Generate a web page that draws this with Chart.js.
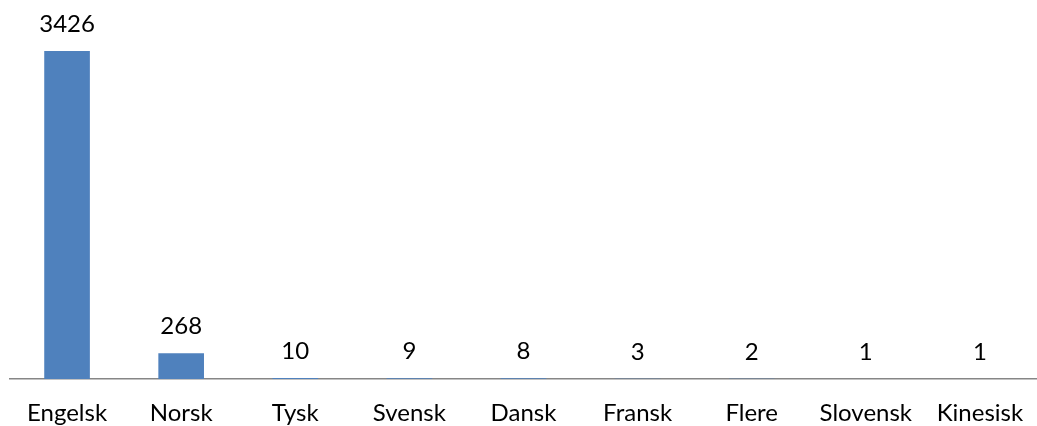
<!DOCTYPE html>
<html>
<head>
<meta charset="utf-8">
<script src="https://cdn.jsdelivr.net/npm/chart.js@4/dist/chart.umd.min.js"></script>
<style>
  html, body { margin: 0; padding: 0; background: #fff; }
  #wrap { width: 1037px; height: 426px; position: relative; }
</style>
</head>
<body>
<div id="wrap"><canvas id="my-chart"></canvas></div>
<script>
const languages = ["Engelsk", "Norsk", "Tysk", "Svensk", "Dansk", "Fransk", "Flere", "Slovensk", "Kinesisk"];
const counts = [3426, 268, 10, 9, 8, 3, 2, 1, 1];

const fontFamily = "Lato, 'Noto Sans', sans-serif";

// etiketter over søylene
const valueLabels = {
  id: "valueLabels",
  afterDatasetsDraw(chart) {
    const ctx = chart.ctx;
    const meta = chart.getDatasetMeta(0);
    ctx.save();
    ctx.font = "24px " + fontFamily;
    ctx.fillStyle = "#000";
    ctx.textAlign = "center";
    ctx.textBaseline = "alphabetic";
    meta.data.forEach((bar, i) => {
      ctx.fillText(String(counts[i]), bar.x, bar.y - 19);
    });
    ctx.restore();
  },
};

new Chart(document.getElementById("my-chart"), {
  type: "bar",
  data: {
    labels: languages,
    datasets: [
      {
        label: "Språk",
        data: counts,
        backgroundColor: "#4F81BD",
        barPercentage: 0.4,
        categoryPercentage: 1,
      },
    ],
  },
  options: {
    responsive: true,
    maintainAspectRatio: false,
    animation: false,
    layout: { padding: { left: 10, right: 0, top: 0, bottom: 0 } },
    plugins: {
      legend: { display: false },
      tooltip: { enabled: false },
    },
    scales: {
      x: {
        grid: { display: false, drawTicks: false },
        border: { display: true, color: "#868686", width: 1.5 },
        ticks: {
          color: "#000",
          padding: 0,
          maxRotation: 0,
          autoSkip: false,
          font: { family: fontFamily, size: 24, lineHeight: "68px" },
        },
        afterFit(scale) {
          scale.height = 47;
        },
      },
      y: {
        display: false,
        min: 0,
        max: 3960,
      },
    },
  },
  plugins: [valueLabels],
});
</script>
</body>
</html>
